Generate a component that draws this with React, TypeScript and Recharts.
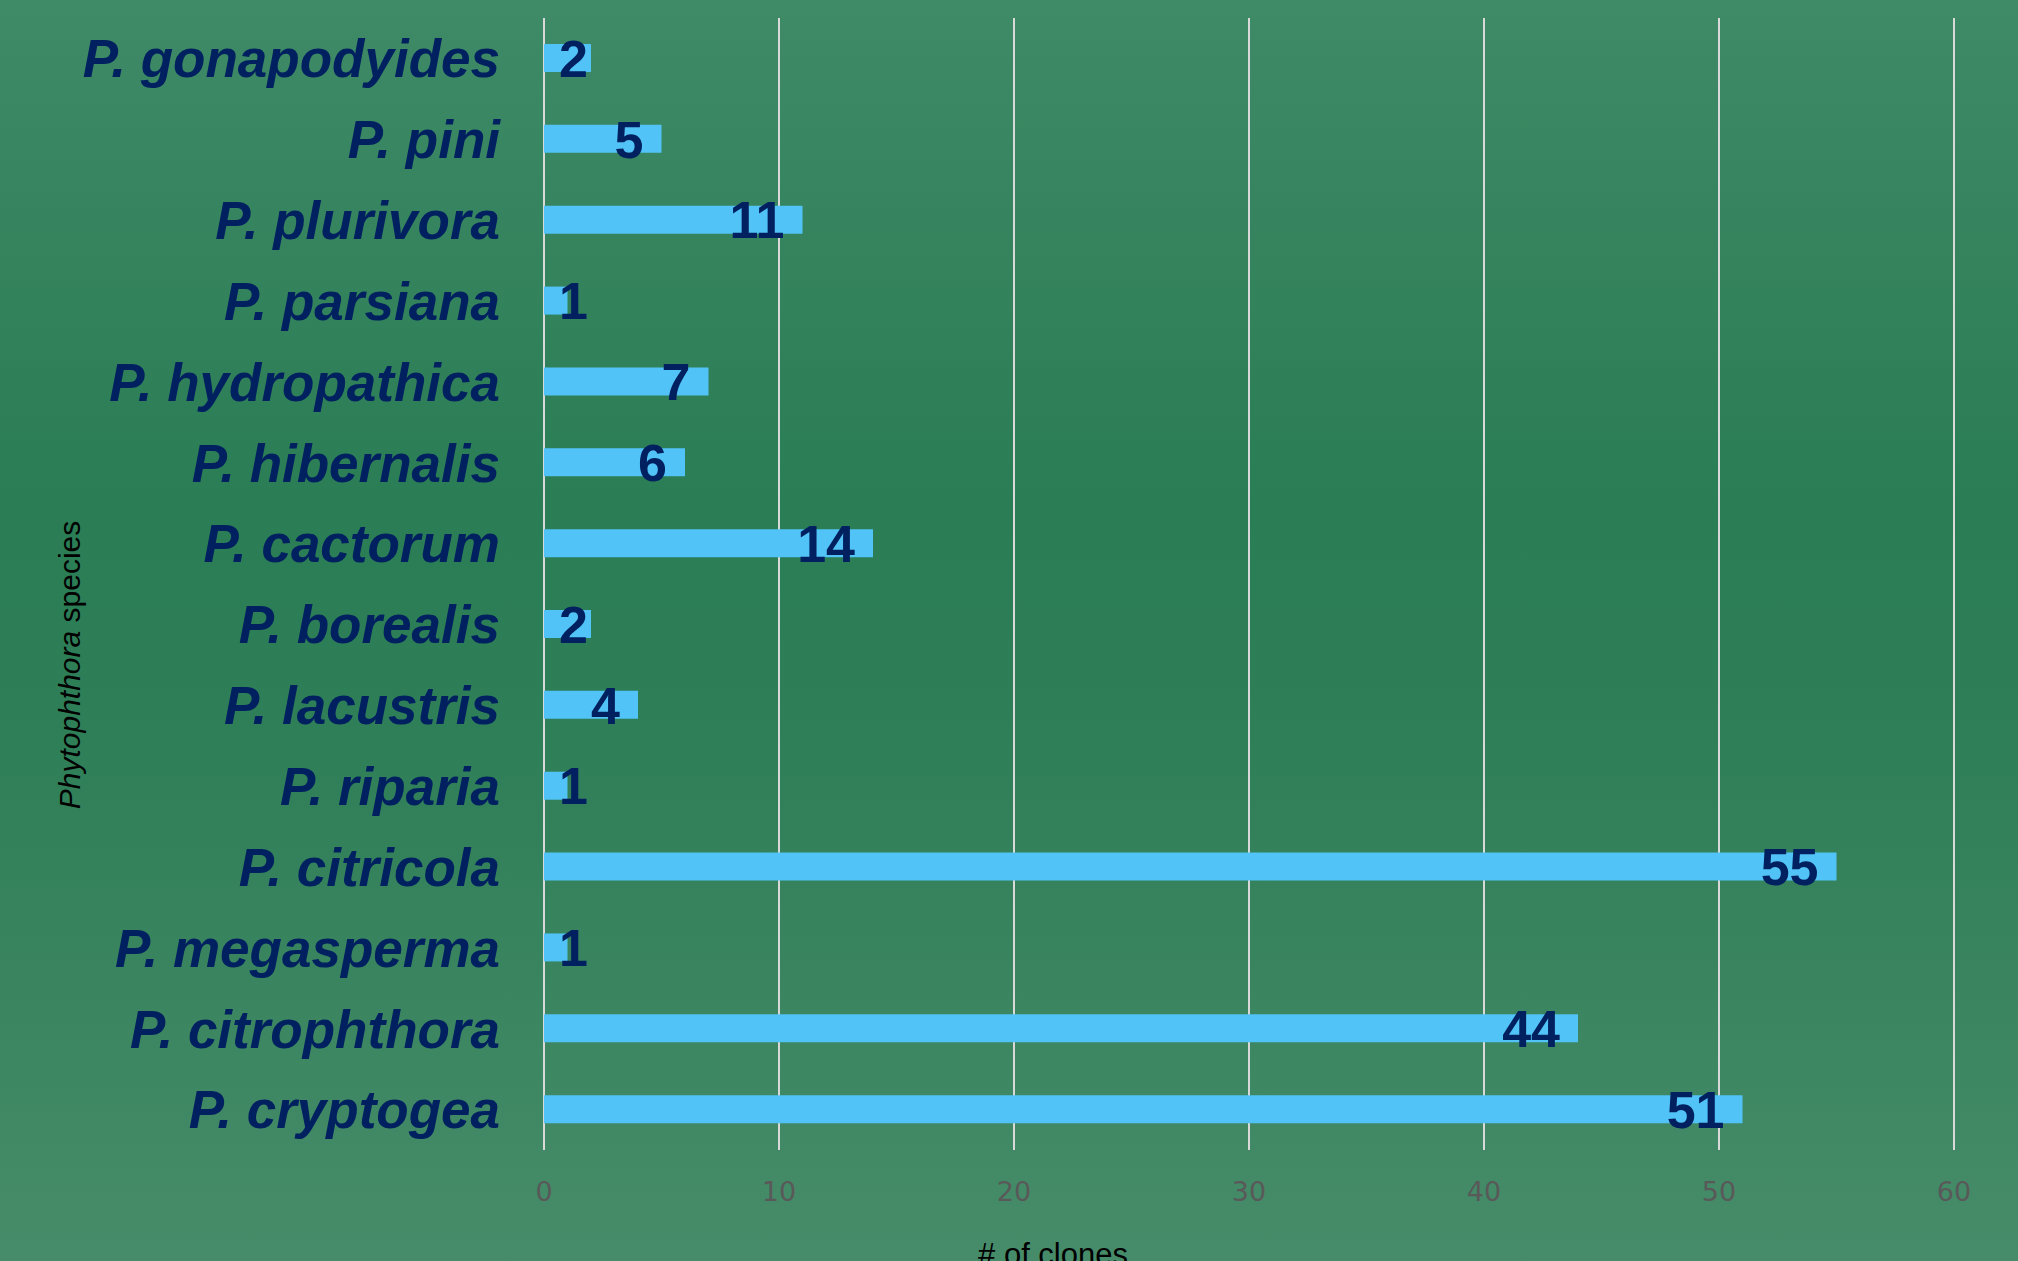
import React from 'react';
import { BarChart, Bar, XAxis, YAxis, CartesianGrid, LabelList, Label } from 'recharts';

const species = [
  'P. gonapodyides',
  'P. pini',
  'P. plurivora',
  'P. parsiana',
  'P. hydropathica',
  'P. hibernalis',
  'P. cactorum',
  'P. borealis',
  'P. lacustris',
  'P. riparia',
  'P. citricola',
  'P. megasperma',
  'P. citrophthora',
  'P. cryptogea',
];
const clones = [2, 5, 11, 1, 7, 6, 14, 2, 4, 1, 55, 1, 44, 51];
const xTicks = [0, 10, 20, 30, 40, 50, 60];

const data = species.map((name, i) => ({ name, clones: clones[i] }));

const NAVY = '#002060';
const BAR = '#52c3f7';

const SpeciesTick = (props: any) => {
  const { x, y, payload } = props;
  return (
    <text
      x={x}
      y={y}
      dy="0.355em"
      textAnchor="end"
      fill={NAVY}
      fontFamily="'Liberation Sans', Arial, sans-serif"
      fontWeight="bold"
      fontStyle="italic"
      fontSize={53}
    >
      {payload.value}
    </text>
  );
};

const ValueLabel = (props: any) => {
  const { x, y, width, height, value } = props;
  // right edge sits a little inside the bar end, short bars get pushed out
  const right = Math.max(x + width - 18, x + 44);
  return (
    <text
      x={right}
      y={y + height / 2}
      dy="0.36em"
      textAnchor="end"
      fill={NAVY}
      fontFamily="'Liberation Sans', Arial, sans-serif"
      fontWeight="bold"
      fontSize={52}
    >
      {value}
    </text>
  );
};

const XTitle = () => (
  <text
    x={1053}
    y={1265}
    textAnchor="middle"
    fill="#000"
    fontFamily="'Liberation Sans', Arial, sans-serif"
    fontSize={31}
  >
    # of clones
  </text>
);

const YTitle = () => (
  <text
    x={0}
    y={0}
    transform="translate(80, 665) rotate(-90)"
    textAnchor="middle"
    fill="#000"
    fontFamily="'Liberation Sans', Arial, sans-serif"
    fontSize={30}
  >
    <tspan fontStyle="italic">Phytophthora</tspan>
    <tspan> species</tspan>
  </text>
);

export default function App() {
  return (
    <div
      style={{
        position: 'fixed',
        left: 0,
        top: 0,
        width: 2018,
        height: 1261,
        background: 'linear-gradient(to bottom, #3f8a67 0%, #2a7d55 40%, #2f7f58 60%, #478c6a 100%)',
      }}
    >
      <BarChart
        width={2018}
        height={1261}
        data={data}
        layout="vertical"
        margin={{ top: 18, right: 64, bottom: 0, left: 0 }}
      >
        <CartesianGrid horizontal={false} vertical stroke="#d9d9d9" strokeWidth={2} />
        <XAxis
          type="number"
          domain={[0, 60]}
          ticks={xTicks}
          height={111}
          axisLine={false}
          tickLine={false}
          tickSize={0}
          tickMargin={32}
          tick={{ fill: '#595959', fontSize: 27, fontFamily: "'DejaVu Sans', sans-serif" }}
        >
          <Label content={<XTitle />} />
        </XAxis>
        <YAxis
          type="category"
          dataKey="name"
          width={544}
          axisLine={false}
          tickLine={false}
          tickSize={0}
          tickMargin={44}
          interval={0}
          tick={<SpeciesTick />}
        >
          <Label content={<YTitle />} />
        </YAxis>
        <Bar dataKey="clones" fill={BAR} barSize={28} isAnimationActive={false}>
          <LabelList dataKey="clones" content={<ValueLabel />} />
        </Bar>
      </BarChart>
    </div>
  );
}
